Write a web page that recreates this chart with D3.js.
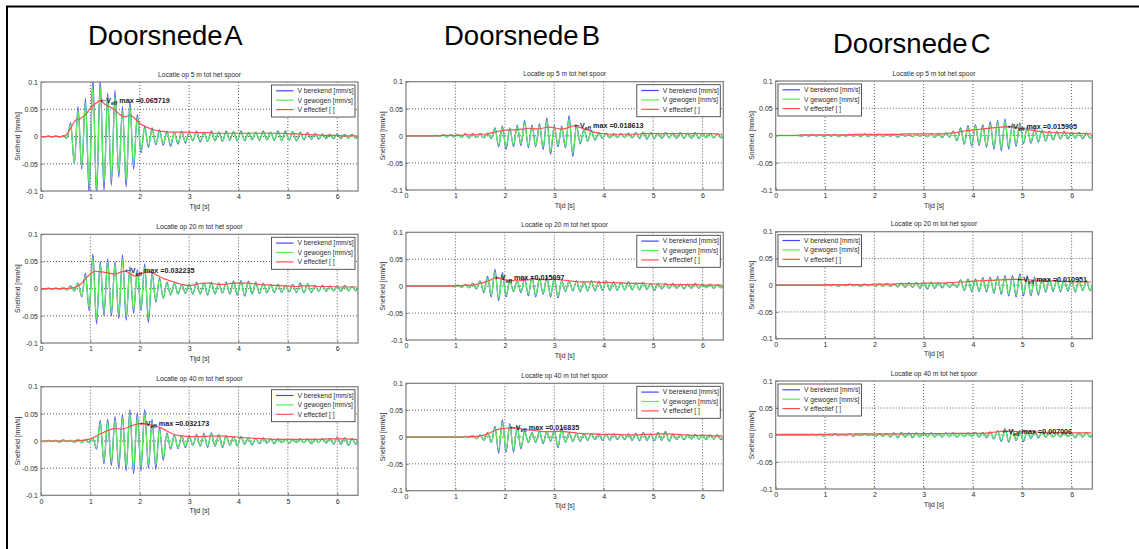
<!DOCTYPE html>
<html>
<head>
<meta charset="utf-8">
<script src="https://cdn.jsdelivr.net/npm/d3@7"></script>
<style>
  body { margin: 0; background: #fff; }
  svg { display: block; }
  text { font-family: "Liberation Sans", Arial, sans-serif; }
</style>
</head>
<body>
<svg id="chart" width="1139" height="549"></svg>
<script>
// ---- data ---------------------------------------------------------------
// Velocity traces are stored in µm/s (= 0.001 mm/s).
// berekend/gewogen: one sample every TRACE_STEP s, starting at t = 0.
// effectief: one sample every EFF_STEP s, starting at t = 0.
const TRACE_STEP = 0.075;
const EFF_STEP = 0.1;

const sections = ["Doorsnede A", "Doorsnede B", "Doorsnede C"];
const locations = ["Locatie op 5 m tot het spoor", "Locatie op 20 m tot het spoor", "Locatie op 40 m tot het spoor"];
const seriesNames = ["V berekend [mm/s]", "V gewogen [mm/s]", "V effectief [ ]"];
const xTicks = [0, 1, 2, 3, 4, 5, 6];
const yTicks = [-0.1, -0.05, 0, 0.05, 0.1];
const yTickLabels = ["-0.1", "-0.05", "0", "0.05", "0.1"];
const xLabel = "Tijd [s]";
const yLabel = "Snelheid [mm/s]";

// Doorsnede A
const berekendA5 = [0,-1,1,-1,1,-1,1,-3,25,-50,55,-60,70,-105,110,-110,105,-100,80,-90,85,-75,55,-93,65,-60,40,-30,18,-20,16,-15,12,-16,10,-18,8,-14,10,-12,8,-8,10,-10,8,-9,10,-8,8,-9,10,-7,9,-8,10,-8,7,-6,8,-7,10,-6,8,-7,10,-8,10,-7,9,-8,8,-6,7,-5,6,-5,5,-4,4,-4,5,-4,4,-3,4,-3,3];
const gewogenA5  = [0,-1,1,-1,1,-1,1,-3,22,-48,48,-55,62,-90,92,-95,90,-85,70,-78,72,-65,48,-80,55,-50,34,-26,15,-17,13,-13,10,-13,8,-15,7,-12,8,-10,7,-7,8,-8,7,-8,8,-7,7,-8,8,-6,8,-7,8,-7,6,-5,7,-6,8,-5,7,-6,8,-7,8,-6,8,-7,7,-5,6,-4,5,-4,4,-3,3,-3,4,-3,3,-3,3,-3,3];
const effectiefA5 = [0,0,0,0,0,2,15,30,33,40, 52,60,65.719,59,54,48,40,36,39,33, 24,19,15,12,10,9,8,8,8,8, 8,7,7,7,7,6,6,6,6,6, 6,6,6,6,6,6,6,6,6,6, 5,5,5,4,4,3,3,2,2,2, 2,1,1,1,1];

const berekendA20 = [0,-1,1,-1,1,-1,2,-2,5,-4,10,-15,28,-40,64,-65,50,-50,55,-50,50,-55,62,-58,40,-45,35,-40,45,-62,30,-25,20,-18,12,-12,10,-10,8,-9,8,-10,12,-10,10,-12,12,-10,10,-8,12,-10,14,-12,15,-14,14,-10,12,-9,10,-8,8,-7,8,-7,6,-6,8,-7,10,-8,9,-7,6,-5,6,-5,5,-4,5,-5,6,-4,4,-4,3];
const gewogenA20  = [0,-1,1,-1,1,-1,2,-2,4,-4,9,-13,24,-35,55,-56,44,-44,48,-44,44,-48,54,-50,35,-39,30,-35,39,-53,26,-22,17,-16,10,-11,9,-9,7,-8,7,-9,10,-9,9,-10,10,-9,9,-7,10,-9,12,-10,13,-12,12,-9,10,-8,9,-7,7,-6,7,-6,5,-5,7,-6,8,-7,8,-6,5,-4,5,-4,4,-4,4,-4,5,-4,4,-3,3];
const effectiefA20 = [0,0,0,0,0,0,1,3,8,18, 27,32,31,30,28,27,30,32.235,28,23, 26,30,31,27,22,18,15,12,9,7, 6,7,9,10,10,9,8,8,9,10, 10,10,10,9,8,7,7,6,6,5, 5,4,4,5,5,5,4,4,4,4, 3,3,3,3,3];

const berekendA40 = [0,-1,1,-1,1,-2,2,-1,1,-2,3,-3,2,-3,6,-15,38,-42,40,-45,45,-50,48,-55,58,-60,52,-55,58,-50,40,-52,25,-35,15,-15,12,-14,10,-12,10,-8,12,-10,14,-12,15,-10,12,-12,10,-8,8,-9,8,-6,6,-7,5,-5,6,-4,4,-5,4,-3,3,-4,3,-3,4,-3,4,-5,4,-3,5,-4,5,-6,7,-6,6,-8,5,-6,4];
const gewogenA40  = [0,-1,1,-1,1,-2,2,-1,1,-2,3,-3,2,-3,5,-13,33,-36,34,-38,38,-43,41,-47,50,-51,44,-47,50,-43,34,-44,21,-30,13,-13,10,-12,9,-10,9,-7,10,-9,12,-10,13,-9,10,-10,9,-7,7,-8,7,-5,5,-6,4,-4,5,-4,4,-4,3,-3,3,-3,3,-3,3,-3,3,-4,3,-3,4,-3,4,-5,6,-5,5,-7,4,-5,3];
const effectiefA40 = [0,0,0,0,0,0,0,0,1,2, 4,8,13,17,21,23,22,23,27,30, 32.173,31,30,28,25,21,16,12,10,9, 8,8,8,8,9,9,9,9,8,8, 7,6,6,5,5,4,4,3,3,3, 3,3,3,3,3,3,3,3,4,4, 4,4,4,3,3];

// Doorsnede B
const berekendB5 = [0,0,0,0,0,0,0,0,1,-1,2,-2,2,-2,3,-3,4,-4,4,-3,4,-4,5,-5,15,-20,18,-25,15,-20,20,-18,28,-22,20,-20,22,-25,33,-34,20,-20,18,-22,37,-38,20,-15,12,-10,10,-8,6,-5,5,-4,4,-3,4,-3,5,-4,6,-5,7,-6,6,-5,5,-5,6,-4,5,-5,6,-5,5,-5,6,-5,5,-4,5,-4,4,-4,3];
const gewogenB5  = [0,0,0,0,0,0,0,0,1,-1,2,-2,2,-2,3,-3,3,-3,3,-3,3,-3,4,-4,13,-17,15,-21,13,-17,17,-15,24,-19,17,-17,19,-21,28,-29,17,-17,15,-19,31,-32,17,-13,10,-9,8,-7,5,-4,4,-3,3,-3,3,-3,4,-3,5,-4,6,-5,5,-4,4,-4,5,-3,4,-4,5,-4,4,-4,5,-4,4,-3,4,-3,3,-3,3];
const effectiefB5 = [0,0,0,0,0,0,0,0.5,1,1, 1,1,2,2,2,3,3,5,7,9, 10,11,11,12,13,14,13,13,15,16, 15,13,13,16,18.613,16,13,10,7,5, 4,3,3,3,3,3,3,3,4,4, 4,4,4,4,4,4,4,4,4,4, 4,4,4,3,3];

const berekendB20 = [0,0,0,0,0,0,0,0,0,0,0,0,1,-1,2,-2,3,-3,5,-5,10,-12,18,-20,31,-27,25,-20,12,-10,10,-12,15,-18,18,-20,15,-15,18,-20,16,-22,10,-10,10,-9,10,-10,8,-9,10,-9,9,-8,10,-8,8,-8,7,-7,8,-7,6,-7,7,-6,5,-8,5,-5,5,-4,5,-4,4,-5,4,-4,5,-4,4,-3,4,-4,3,-3,3];
const gewogenB20  = [0,0,0,0,0,0,0,0,0,0,0,0,1,-1,2,-2,3,-3,4,-4,9,-10,15,-17,26,-23,21,-17,10,-9,9,-10,13,-15,15,-17,13,-13,15,-17,14,-19,9,-9,9,-8,9,-9,7,-8,9,-8,8,-7,9,-7,7,-7,6,-6,7,-6,5,-6,6,-5,4,-7,4,-4,4,-3,4,-3,3,-4,3,-3,4,-3,3,-3,3,-3,3,-3,3];
const effectiefB20 = [0,0,0,0,0,0,0,0,0,0, 1,1,2,2,3,5,8,11,15.097,14, 12,11,10,10,11,12,13,12,12,12, 13,12,11,10,9,8,8,8,8,7, 7,7,6,6,6,5,5,5,5,4, 4,4,4,3,3,3,3,3,3,3, 2,2,2,2,2];

const berekendB40 = [0,0,0,0,0,0,0,0,0,0,0,0,0,0,0,0,1,-1,2,-3,4,-6,8,-10,20,-30,32,-28,25,-28,20,-22,10,-10,8,-10,10,-12,10,-8,12,-20,17,-10,8,-8,7,-8,6,-6,6,-5,6,-6,5,-6,6,-5,5,-5,6,-6,7,-7,8,-6,6,-7,8,-6,10,-8,6,-5,5,-5,4,-4,5,-4,4,-5,4,-4,4,-5,3];
const gewogenB40  = [0,0,0,0,0,0,0,0,0,0,0,0,0,0,0,0,1,-1,2,-3,3,-5,7,-9,17,-25,27,-24,21,-24,17,-19,9,-9,7,-9,9,-10,9,-7,10,-17,14,-9,7,-7,6,-7,5,-5,5,-4,5,-5,4,-5,5,-4,4,-4,5,-5,6,-6,7,-5,5,-6,7,-5,8,-7,5,-4,4,-4,3,-3,4,-3,3,-4,3,-3,3,-4,3];
const effectiefB40 = [0,0,0,0,0,0,0,0,0,0, 0,0,0,1,1,2,4,8,12,15, 16,16.835,16.5,16,14,13,12,11,10,10, 10,11,10,9,8,7,6,6,6,5, 5,5,5,5,4,4,4,4,5,5, 5,6,6,6,5,5,4,4,3,3, 3,3,2,2,2];

// Doorsnede C
const berekendC5 = [0,0,0,0,0,0,0,-1,1,-1,2,-1,1,-2,1,-1,2,-2,1,-1,2,-1,1,-2,3,-2,1,-1,2,-2,1,-1,2,-3,2,-1,1,-2,2,-1,1,-2,3,-4,4,-4,5,-3,8,-10,14,-16,18,-20,20,-18,20,-22,25,-25,28,-28,30,-25,22,-20,23,-15,15,-14,12,-12,10,-10,8,-8,7,-6,8,-6,6,-5,6,-6,5,-5,4];
const gewogenC5  = [0,0,0,0,0,0,0,-1,1,-1,2,-1,1,-2,1,-1,2,-2,1,-1,2,-1,1,-2,2,-2,1,-1,2,-2,1,-1,2,-2,2,-1,1,-2,2,-1,1,-2,2,-3,3,-3,4,-3,7,-9,12,-14,15,-17,17,-15,17,-19,21,-21,24,-24,26,-21,19,-17,20,-13,13,-12,10,-10,9,-9,7,-7,6,-5,7,-5,5,-4,5,-5,4,-4,3];
const effectiefC5 = [0,0,0,0,0,1,1,1,1,1, 1,1,1,1,1,1,2,2,2,2, 2,2,2,2,2,2,3,3,3,3, 3,3,3,3,3,4,5,6,8,9, 10,11,12,13,14,15,15.5,15.905,15,14, 13,11,10,8,7,6,6,5,5,5, 4,4,4,3,3];

const berekendC20 = [0,0,0,0,0,0,0,0,0,0,0,0,0,0,1,-1,1,-2,1,-1,2,-1,1,-2,2,-1,1,-2,2,-2,3,-2,2,-3,4,-4,5,-4,5,-6,6,-7,6,-6,5,-5,4,-4,3,-4,10,-10,12,-12,12,-12,14,-13,15,-15,16,-17,18,-20,18,-22,21,-20,18,-20,15,-18,12,-13,12,-12,11,-12,10,-11,10,-13,10,-10,9,-10,8];
const gewogenC20  = [0,0,0,0,0,0,0,0,0,0,0,0,0,0,1,-1,1,-2,1,-1,2,-1,1,-2,2,-1,1,-2,2,-2,2,-2,2,-2,3,-3,4,-3,4,-5,5,-6,5,-5,4,-4,3,-3,3,-3,9,-9,10,-10,10,-10,12,-11,13,-13,14,-14,15,-17,15,-19,18,-17,15,-17,13,-15,10,-11,10,-10,9,-10,9,-9,9,-11,9,-9,8,-9,7];
const effectiefC20 = [0,0,0,0,0,0,0,0,0,0, 1,1,1,1,1,1,1,1,1,1, 2,2,2,2,2,3,3,3,3,3, 4,4,4,4,4,5,5,6,6,7, 7,8,8,9,9,10,10,10.5,10.8,10.951, 10.5,10,9.5,9,8.5,8,8,7,7,7, 6,6,6,6,6];

const berekendC40 = [0,0,0,0,0,0,0,0,0,0,1,-1,1,-2,1,-1,2,-1,1,-1,2,-2,1,-1,2,-1,1,-2,2,-2,3,-4,4,-5,5,-4,4,-5,4,-4,4,-3,4,-4,3,-4,4,-3,4,-4,3,-3,4,-3,5,-4,5,-5,6,-7,8,-12,12,-13,10,-10,8,-12,7,-6,6,-5,5,-4,4,-4,4,-4,4,-3,4,-5,4,-4,5,-4,3];
const gewogenC40  = [0,0,0,0,0,0,0,0,0,0,1,-1,1,-2,1,-1,2,-1,1,-1,2,-2,1,-1,2,-1,1,-2,2,-2,3,-3,3,-4,4,-3,3,-4,3,-3,3,-3,3,-3,3,-3,3,-3,3,-3,3,-3,3,-3,4,-3,4,-4,5,-6,7,-10,10,-11,9,-9,7,-10,6,-5,5,-4,4,-3,3,-3,3,-3,3,-3,3,-4,3,-3,4,-3,3];
const effectiefC40 = [1,1,1,1,1,1,1,1,1,1, 1,1.5,1.5,1.5,1.5,1.5,2,2,2,2, 2,2,2,2,2,2,2.5,2.5,2.5,2.5, 2.5,2.5,2.5,2.5,2.5,3,3,3,3,3, 3,3,3,4,5,6,7.006,7,6.8,6.5, 6.3,6,6,5.5,5,5,5,4.5,4.5,4, 4,4,4,4,4];

// ---- layout ------------------------------------------------------------
const panels = [
  { col: 0, row: 0, b: berekendA5,  g: gewogenA5,  e: effectiefA5 },
  { col: 0, row: 1, b: berekendA20, g: gewogenA20, e: effectiefA20 },
  { col: 0, row: 2, b: berekendA40, g: gewogenA40, e: effectiefA40 },
  { col: 1, row: 0, b: berekendB5,  g: gewogenB5,  e: effectiefB5 },
  { col: 1, row: 1, b: berekendB20, g: gewogenB20, e: effectiefB20 },
  { col: 1, row: 2, b: berekendB40, g: gewogenB40, e: effectiefB40 },
  { col: 2, row: 0, b: berekendC5,  g: gewogenC5,  e: effectiefC5 },
  { col: 2, row: 1, b: berekendC20, g: gewogenC20, e: effectiefC20 },
  { col: 2, row: 2, b: berekendC40, g: gewogenC40, e: effectiefC40 }
];

const colX = [[41, 358], [406, 723.3], [775.7, 1092.3]];
const rowTop = [[82, 234.3, 386.7], [81.7, 232.3, 383.3], [81, 231.7, 381]];
const rowH = [[109, 108.7, 108.6], [108.3, 107.7, 107.4], [109, 107, 108]];
const headingPos = [[88, 45], [444, 45], [833, 53]];
const X_MAX = 6.42;

const COLORS = ["#4646ff", "#55ee55", "#ff5050"];
const AXIS_GREY = "#7d7d7d";
const TEXT_COL = "#2a2a2a";

const svg = d3.select("#chart");

// page frame
svg.append("path")
  .attr("d", "M7,549 V6.5 H1139")
  .attr("fill", "none").attr("stroke", "#000").attr("stroke-width", 2);

// section headings
sections.forEach((s, i) => {
  svg.append("text")
    .attr("x", headingPos[i][0]).attr("y", headingPos[i][1])
    .attr("font-size", 27.5).attr("word-spacing", -4.5)
    .attr("fill", "#000").text(s);
});

const toMm = v => v / 1000;

panels.forEach((p, k) => {
  const [x0, x1] = colX[p.col];
  const top = rowTop[p.col][p.row];
  const h = rowH[p.col][p.row];
  const x = d3.scaleLinear().domain([0, X_MAX]).range([x0, x1]);
  const y = d3.scaleLinear().domain([-0.1, 0.1]).range([top + h, top]);

  const g = svg.append("g");
  const clipId = "clip" + k;
  g.append("clipPath").attr("id", clipId)
    .append("rect").attr("x", x0).attr("y", top).attr("width", x1 - x0).attr("height", h);

  // white plot area
  g.append("rect").attr("x", x0).attr("y", top).attr("width", x1 - x0).attr("height", h)
    .attr("fill", "#fff");

  // dotted grid
  const grid = g.append("g").attr("stroke", "#333").attr("stroke-width", 0.8)
    .attr("stroke-dasharray", "1,2");
  grid.selectAll("line.v").data(xTicks.filter(t => t > 0)).join("line")
    .attr("x1", d => x(d)).attr("x2", d => x(d)).attr("y1", top).attr("y2", top + h);
  grid.selectAll("line.h").data(yTicks.filter(t => Math.abs(t) < 0.1)).join("line")
    .attr("x1", x0).attr("x2", x1).attr("y1", d => y(d)).attr("y2", d => y(d));

  // axes
  const ax = g.append("g").attr("transform", `translate(0,${top + h})`)
    .call(d3.axisBottom(x).tickValues(xTicks).tickFormat(d3.format("d")).tickSizeInner(-2.5).tickSizeOuter(0).tickPadding(3.5));
  const ay = g.append("g").attr("transform", `translate(${x0},0)`)
    .call(d3.axisLeft(y).tickValues(yTicks).tickFormat((d, i) => yTickLabels[i]).tickSizeInner(-2.5).tickSizeOuter(0).tickPadding(3));
  [ax, ay].forEach(a => {
    a.select(".domain").remove();
    a.selectAll(".tick line").attr("stroke", AXIS_GREY);
    a.selectAll(".tick text").attr("fill", TEXT_COL).attr("font-size", 7)
      .attr("font-family", "Liberation Sans, Arial, sans-serif");
  });

  // traces
  const traceLine = d3.line()
    .x((d, i) => x(i * TRACE_STEP)).y(d => y(toMm(d)))
    .curve(d3.curveMonotoneX);
  const effLine = d3.line()
    .x((d, i) => x(i * EFF_STEP)).y(d => y(toMm(d)))
    .curve(d3.curveMonotoneX);
  const traces = g.append("g").attr("clip-path", `url(#${clipId})`).attr("fill", "none");
  traces.append("path").attr("d", traceLine(p.b)).attr("stroke", COLORS[0]).attr("stroke-width", 1.2);
  traces.append("path").attr("d", traceLine(p.g)).attr("stroke", COLORS[1]).attr("stroke-width", 1.3);
  traces.append("path").attr("d", effLine(p.e)).attr("stroke", COLORS[2]).attr("stroke-width", 1.2);

  // axes box
  g.append("rect").attr("x", x0).attr("y", top).attr("width", x1 - x0).attr("height", h)
    .attr("fill", "none").attr("stroke", AXIS_GREY).attr("stroke-width", 1.2);

  // title and axis labels
  g.append("text").attr("x", (x0 + x1) / 2).attr("y", top - 5.5)
    .attr("text-anchor", "middle").attr("font-size", 6.7).attr("fill", TEXT_COL)
    .text(locations[p.row]);
  g.append("text").attr("x", (x0 + x1) / 2).attr("y", top + h + 17.5)
    .attr("text-anchor", "middle").attr("font-size", 6.9).attr("fill", TEXT_COL)
    .text(xLabel);
  g.append("text")
    .attr("transform", `translate(${x0 - 21.5},${top + h / 2}) rotate(-90)`)
    .attr("text-anchor", "middle").attr("font-size", 6.8).attr("fill", TEXT_COL)
    .text(yLabel);

  // maximum of the effective value
  const iMax = d3.maxIndex(p.e);
  const vMax = p.e[iMax];
  const ann = g.append("text")
    .attr("x", x(iMax * EFF_STEP)).attr("y", y(toMm(vMax)) + 2.3)
    .attr("font-size", 7.2).attr("font-weight", "bold").attr("fill", "#222");
  ann.append("tspan").attr("font-family", "DejaVu Sans, sans-serif").attr("font-weight", "normal")
    .attr("font-size", 7).text("\u2190");
  ann.append("tspan").text("V");
  ann.append("tspan").attr("font-size", 5.2).attr("dy", 2.2).text("eff");
  ann.append("tspan").attr("dy", -2.2).text(" max =" + toMm(vMax).toFixed(6));

  // legend
  const lw = 83.5, lh = 32;
  const lx = p.col === 2 ? x0 + 2.3 : x1 - lw - 3;
  const ly = top + 3;
  const leg = g.append("g").attr("transform", `translate(${lx},${ly})`);
  leg.append("rect").attr("width", lw).attr("height", lh)
    .attr("fill", "#fff").attr("stroke", "#444").attr("stroke-width", 0.9);
  seriesNames.forEach((name, i) => {
    const yy = 5.8 + i * 9.4;
    leg.append("line").attr("x1", 4.5).attr("x2", 22).attr("y1", yy).attr("y2", yy)
      .attr("stroke", COLORS[i]).attr("stroke-width", 1.2);
    leg.append("text").attr("x", 26).attr("y", yy + 2.4)
      .attr("font-size", 6.7).attr("fill", TEXT_COL).text(name);
  });
});
</script>
</body>
</html>
